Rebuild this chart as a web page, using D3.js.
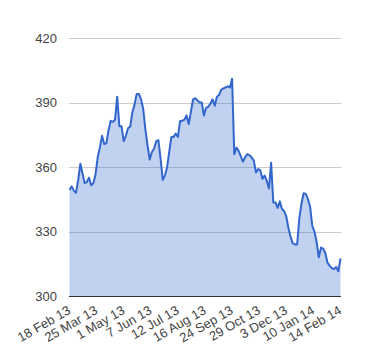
<!DOCTYPE html>
<html>
<head>
<meta charset="utf-8">
<script src="https://cdn.jsdelivr.net/npm/d3@7"></script>
<style>
    body { margin: 0; background: #fff; }
    #chart text { font-family: "Liberation Sans", Arial, sans-serif; font-size: 13px; fill: #444; }
</style>
</head>
<body>
<div id="chart"></div>
<script>
var dateLabels = ["18 Feb 13", "25 Mar 13", "1 May 13", "7 Jun 13", "12 Jul 13", "16 Aug 13",
    "24 Sep 13", "29 Oct 13", "3 Dec 13", "10 Jan 14", "14 Feb 14"];

var yTicks = [300, 330, 360, 390, 420];

// closing prices, roughly every second trading day
var prices = [
    349.3, 351, 349, 348, 354, 361.5, 357, 352.5, 353, 355,
    351.5, 352.5, 356.5, 364.5, 369, 374.5, 370.7, 371, 377, 381.5,
    381, 382, 392.7, 379, 379, 372, 374.5, 378, 378.8, 385.5,
    389, 394, 394, 391.5, 387, 377.5, 370, 363.5, 367, 368.5,
    372, 372.5, 364, 354, 356, 359.8, 367, 374, 374, 375.5,
    374, 381.3, 381.5, 382, 384, 380, 385.7, 391.5, 392, 391,
    390, 390, 384, 387.5, 388, 389.5, 391.5, 388.5, 392.7, 393.5,
    396, 396.6, 397, 397.5, 397, 401, 366, 369, 367.5, 365,
    362.5, 364.5, 366, 365.5, 364.5, 363, 357.5, 359, 358.5, 354.5,
    356, 353.5, 350, 362, 343.5, 343.5, 341, 344, 340.5, 339.5,
    337, 331.5, 327.5, 324.5, 324, 324, 336, 343, 347.8, 347.5,
    345, 341.5, 332.5, 330, 325, 318, 322.5, 322, 320, 315.5,
    314, 313, 312.5, 313.5, 311.5, 317.5
];

var StockChart = (function () {
    function StockChart() {
        this.svg = d3.select("#chart").append("svg")
            .attr("width", StockChart.width)
            .attr("height", StockChart.height);
        this.x = d3.scaleLinear().domain([0, prices.length - 1]).range([69.5, 340.5]);
        this.y = d3.scaleLinear().domain([300, 420]).range([296, 38]);
        this.drawGrid();
        this.drawSeries();
        this.drawAxes();
    }

    StockChart.prototype.drawGrid = function () {
        var _this = this;
        this.svg.append("g").selectAll("line").data(yTicks.slice(1)).enter().append("line")
            .attr("x1", 69).attr("x2", 341)
            .attr("y1", function (d) { return Math.round(_this.y(d)) + 0.5; })
            .attr("y2", function (d) { return Math.round(_this.y(d)) + 0.5; })
            .attr("stroke", "#ccc");
    };

    StockChart.prototype.drawSeries = function () {
        var _this = this;
        var area = d3.area()
            .x(function (d, i) { return _this.x(i); })
            .y0(this.y(300))
            .y1(function (d) { return _this.y(d); });
        var line = d3.line()
            .x(function (d, i) { return _this.x(i); })
            .y(function (d) { return _this.y(d); });

        this.svg.append("path").datum(prices)
            .attr("d", area)
            .attr("fill", "#3366cc")
            .attr("fill-opacity", 0.3);
        this.svg.append("path").datum(prices)
            .attr("d", line)
            .attr("fill", "none")
            .attr("stroke", "#3366cc")
            .attr("stroke-width", 2)
            .attr("stroke-linejoin", "round");
    };

    StockChart.prototype.drawAxes = function () {
        var _this = this;
        this.svg.append("line")
            .attr("x1", 69).attr("x2", 341)
            .attr("y1", Math.round(this.y(300)) + 0.5).attr("y2", Math.round(this.y(300)) + 0.5)
            .attr("stroke", "#333");

        this.svg.append("g").selectAll("text").data(yTicks).enter().append("text")
            .attr("x", 57)
            .attr("y", function (d) { return _this.y(d); })
            .attr("dy", "0.35em")
            .attr("text-anchor", "end")
            .text(function (d) { return d; });

        var step = (prices.length - 1) / (dateLabels.length - 1);
        this.svg.append("g").selectAll("text").data(dateLabels).enter().append("text")
            .attr("text-anchor", "end")
            .attr("transform", function (d, i) {
                return "translate(" + (_this.x(i * step) + 2) + ",313) rotate(-30)";
            })
            .text(function (d) { return d; });
    };
    StockChart.width = 380;
    StockChart.height = 360;
    return StockChart;
})();

window.onload = function () {
    var chart = new StockChart();
};
</script>
</body>
</html>
